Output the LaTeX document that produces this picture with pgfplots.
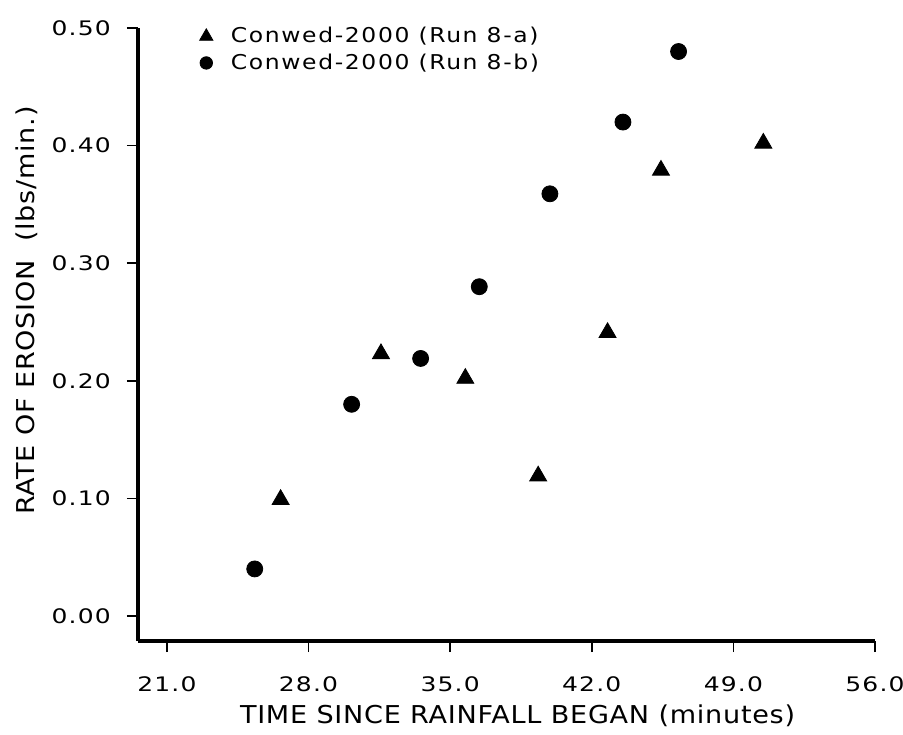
\documentclass[border=0pt]{standalone}
\usepackage{fontspec}
\setmainfont{DejaVu Sans}
\newfontfamily\labfont[FakeStretch=1.1,LetterSpace=3]{DejaVu Sans}
\newfontfamily\legfont[FakeStretch=1.15,LetterSpace=8]{DejaVu Sans}
\newfontfamily\numfont[FakeStretch=1.25,LetterSpace=6]{DejaVu Sans}
\usepackage{pgfplots}
\pgfplotsset{compat=1.18}

% Run 8-a (triangles) and Run 8-b (circles)
\pgfplotstableread{
x y
26.62 0.099
31.58 0.223
35.75 0.202
39.35 0.119
42.78 0.241
45.42 0.379
50.48 0.402
}\runA
\pgfplotstableread{
x y
25.34 0.040
30.13 0.180
33.54 0.219
36.44 0.280
39.93 0.359
43.54 0.420
46.29 0.480
}\runB

\begin{document}
\begin{tikzpicture}
\useasboundingbox (-69pt,-46.5pt) rectangle (382.5pt,320.5pt);
\begin{axis}[
  at={(0,0)}, anchor=south west,
  scale only axis, width=368.5pt, height=306.5pt,
  xmin=19.57, xmax=56, ymin=-0.0213, ymax=0.5,
  axis x line*=bottom, axis y line*=left,
  axis line style={-, line width=2pt},
  every outer x axis line/.append style={-},
  every outer y axis line/.append style={-},
  xtick={21,28,...,56}, ytick={0,0.1,...,0.5},
  tick align=outside, major tick length=5.5pt,
  tick style={line width=0.8pt, black},
  /pgf/number format/assume math mode=true,
  x tick label style={/pgf/number format/.cd, fixed, fixed zerofill, precision=1},
  y tick label style={/pgf/number format/.cd, fixed, fixed zerofill, precision=2},
  ticklabel style={font=\numfont\fontsize{10}{11}\selectfont},
  xticklabel shift=9pt, yticklabel shift=4.5pt,
  xlabel={TIME SINCE RAINFALL BEGAN (minutes)},
  ylabel={RATE OF EROSION\ \ (lbs/min.)},
  label style={font=\labfont\fontsize{12.3}{14}\selectfont},
  xlabel style={at={(axis description cs:0.515,-0.1223)}, anchor=center},
  ylabel style={at={(axis description cs:-0.1506,0.539)}, anchor=center, rotate=0},
  legend style={draw=none, fill=none, at={(axis description cs:0.075,1.015)}, anchor=north west,
    font=\legfont\fontsize{10.2}{12}\selectfont, row sep=0pt},
  legend cell align=left,
  legend image post style={scale=0.78},
  clip=false,
]
\addplot[only marks, mark=triangle*, mark size=4.9pt, black] table {\runA};
\addlegendentry{\hspace{7pt}Conwed-2000 (Run 8-a)}
\addplot[only marks, mark=*, mark size=4pt, black] table {\runB};
\addlegendentry{\hspace{7pt}Conwed-2000 (Run 8-b)}
\end{axis}
\end{tikzpicture}
\end{document}
